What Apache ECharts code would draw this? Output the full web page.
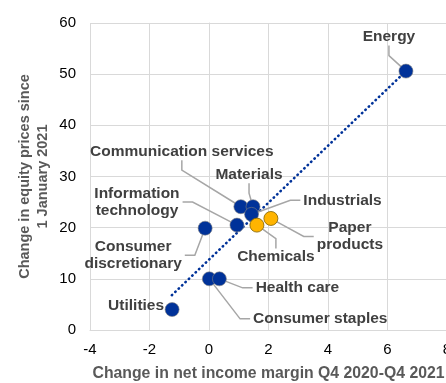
<!DOCTYPE html>
<html>
<head>
<meta charset="utf-8">
<script src="https://cdn.jsdelivr.net/npm/echarts@6/dist/echarts.min.js"></script>
<style>
  html, body { margin: 0; padding: 0; background: #ffffff; }
  #chart { width: 446px; height: 383px; }
</style>
</head>
<body>
<div id="chart"></div>
<script>
// Sector aggregates: change in net income margin (pp) vs change in equity prices (%)
const sectors = ['Energy', 'Communication services', 'Materials', 'Industrials',
  'Information\ntechnology', 'Consumer\ndiscretionary', 'Consumer staples', 'Health care', 'Utilities'];
const marginChange = [6.62, 1.07, 1.48, 1.43, 0.94, -0.13, 0.01, 0.35, -1.24];
const equityChange = [50.6, 24.1, 24.1, 22.6, 20.5, 19.9, 10.0, 10.0, 4.0];

// Sub-sectors highlighted separately
const subSectors = ['Chemicals', 'Paper\nproducts'];
const subMarginChange = [1.61, 2.08];
const subEquityChange = [20.5, 21.8];

// Fitted trend line end points
const trendX = [-1.25, 6.62];
const trendY = [6.8, 50.6];

// Axis ticks
const xTicks = [-4, -2, 0, 2, 4, 6, 8];
const yTicks = [0, 10, 20, 30, 40, 50, 60];

// Label placement relative to each marker, in pixels
const labelShift = {
  'Energy': [-17, -34],
  'Communication services': [-59, -55],
  'Materials': [-4, -32],
  'Industrials': [91, -14],
  'Information\ntechnology': [-100, -23],
  'Consumer\ndiscretionary': [-72, 27],
  'Consumer staples': [111, 40],
  'Health care': [78, 9],
  'Utilities': [-36, -4],
  'Chemicals': [19, 32],
  'Paper\nproducts': [79, 18]
};
const noLeader = ['Utilities'];

const BLUE = '#003299';
const ORANGE = '#FFB400';
const FONT = '"Liberation Sans", Arial, sans-serif';

function pairs(xs, ys) { return xs.map((x, i) => [x, ys[i]]); }
function named(names, xs, ys) {
  return names.map((n, i) => ({
    name: n,
    value: [xs[i], ys[i]],
    labelLine: { show: noLeader.indexOf(n) < 0 }
  }));
}
function layoutFor(names) {
  return function (p) {
    const s = labelShift[names[p.dataIndex]] || [0, 0];
    return { dx: s[0], dy: s[1] };
  };
}

const labelStyle = {
  show: true,
  position: 'inside',
  formatter: '{b}',
  color: '#404040',
  fontFamily: FONT,
  fontWeight: 'bold',
  fontSize: 15.5,
  lineHeight: 17,
  align: 'center',
  verticalAlign: 'middle',
  padding: [0, 3]
};
const leaderStyle = { show: true, length2: 10, lineStyle: { color: '#a6a6a6', width: 1.5 } };

const chart = echarts.init(document.getElementById('chart'), null, { renderer: 'canvas' });
chart.setOption({
  animation: false,
  backgroundColor: '#ffffff',
  grid: { left: 90, top: 23, width: 357, height: 307, outerBoundsMode: 'none', containLabel: false },
  xAxis: {
    type: 'value',
    min: xTicks[0], max: xTicks[xTicks.length - 1], interval: xTicks[1] - xTicks[0],
    name: 'Change in net income margin Q4 2020-Q4 2021',
    nameLocation: 'middle', nameGap: 36,
    nameTextStyle: { color: '#595959', fontFamily: FONT, fontWeight: 'bold', fontSize: 15.8 },
    axisLine: { show: true, lineStyle: { color: '#d9d9d9', width: 1 } },
    axisTick: { show: false },
    axisLabel: { color: '#000000', fontFamily: FONT, fontSize: 15, margin: 12 },
    splitLine: { show: true, lineStyle: { color: '#d9d9d9', width: 1 } }
  },
  yAxis: {
    type: 'value',
    min: yTicks[0], max: yTicks[yTicks.length - 1], interval: yTicks[1] - yTicks[0],
    name: 'Change in equity prices since\n1 January 2021',
    nameLocation: 'middle', nameGap: 38, nameRotate: 90, nameMoveOverlap: false,
    nameTextStyle: { color: '#595959', fontFamily: FONT, fontWeight: 'bold', fontSize: 14.5, lineHeight: 18 },
    axisLine: { show: true, lineStyle: { color: '#d9d9d9', width: 1 } },
    axisTick: { show: false },
    axisLabel: { color: '#000000', fontFamily: FONT, fontSize: 15, margin: 14 },
    splitLine: { show: true, lineStyle: { color: '#d9d9d9', width: 1 } }
  },
  series: [
    {
      type: 'line',
      data: pairs(trendX, trendY),
      symbol: 'none',
      silent: true,
      lineStyle: { color: BLUE, width: 2.6, type: [0.5, 4.2], cap: 'round' },
      z: 1
    },
    {
      type: 'scatter',
      data: named(sectors, marginChange, equityChange),
      symbolSize: 14,
      itemStyle: { color: BLUE, borderColor: '#7f7f7f', borderWidth: 0.6, opacity: 1 },
      label: labelStyle,
      labelLine: leaderStyle,
      labelLayout: layoutFor(sectors),
      z: 3
    },
    {
      type: 'scatter',
      data: named(subSectors, subMarginChange, subEquityChange),
      symbolSize: 14,
      itemStyle: { color: ORANGE, borderColor: '#7f6000', borderWidth: 0.8, opacity: 1 },
      label: labelStyle,
      labelLine: leaderStyle,
      labelLayout: layoutFor(subSectors),
      z: 3
    }
  ]
});
</script>
</body>
</html>
